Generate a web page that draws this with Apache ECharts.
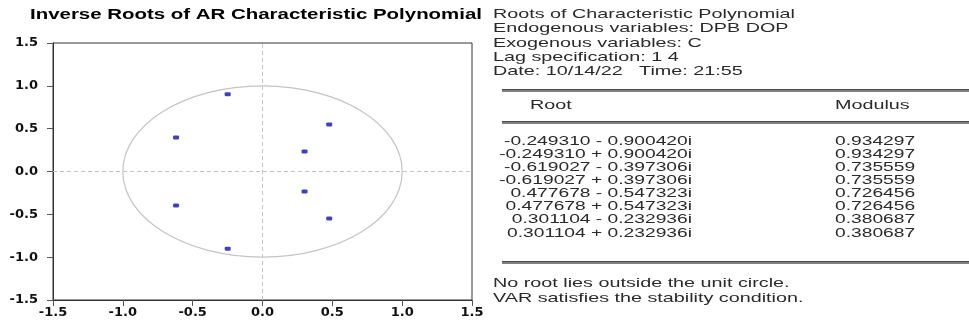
<!DOCTYPE html>
<html>
<head>
<meta charset="utf-8">
<script src="https://cdn.jsdelivr.net/npm/echarts@6/dist/echarts.min.js"></script>
<style>
html,body{margin:0;padding:0;background:#fff;}
#c{width:969px;height:326px;}
</style>
</head>
<body>
<div id="c"></div>
<script>
// ---- data ----
const chartTitle = 'Inverse Roots of AR Characteristic Polynomial';
const realParts = [-0.249310, -0.249310, -0.619027, -0.619027, 0.477678, 0.477678, 0.301104, 0.301104];
const imagParts = [-0.900420, 0.900420, -0.397306, 0.397306, -0.547323, 0.547323, -0.232936, 0.232936];
const moduli = ['0.934297', '0.934297', '0.735559', '0.735559', '0.726456', '0.726456', '0.380687', '0.380687'];
const axisMin = -1.5, axisMax = 1.5, axisStep = 0.5;
const headerLines = [
  'Roots of Characteristic Polynomial',
  'Endogenous variables: DPB DOP',
  'Exogenous variables: C',
  'Lag specification: 1 4',
  'Date: 10/14/22   Time: 21:55'
];
const colHeaders = ['Root', 'Modulus'];
const footerLines = [
  'No root lies outside the unit circle.',
  'VAR satisfies the stability condition.'
];

function fmtRoot(re, im) {
  return re.toFixed(6) + (im < 0 ? ' - ' : ' + ') + Math.abs(im).toFixed(6) + 'i';
}

// ---- text measuring for horizontal stretch ----
const cv = document.createElement('canvas').getContext('2d');
function measure(text, font) { cv.font = font; return cv.measureText(text).width; }
const bodyFont = '13px "Liberation Sans"';
const titleFont = 'bold 15px "Liberation Sans"';
const bodyScale = 302 / measure(headerLines[0], bodyFont);
const rowScale = 188 / measure(fmtRoot(realParts[0], imagParts[0]), bodyFont);
const titleScale = 452 / measure(chartTitle, titleFont);

function txt(text, x, y, opts) {
  opts = opts || {};
  return {
    type: 'text', x: x, y: y, scaleX: opts.scale || bodyScale, silent: true,
    style: {
      text: text, x: 0, y: 0,
      fill: opts.color || '#2a2a2a',
      font: opts.font || bodyFont,
      textAlign: opts.align || 'left',
      textVerticalAlign: 'middle'
    }
  };
}
function band(y) {
  return [
    { type: 'line', silent: true, shape: { x1: 502, y1: y + 1.5, x2: 969, y2: y + 1.5 }, style: { stroke: '#808080', lineWidth: 3 } },
    { type: 'line', silent: true, shape: { x1: 502, y1: y + 0.5, x2: 969, y2: y + 0.5 }, style: { stroke: '#4a4a4a', lineWidth: 1 } }
  ];
}

const graphics = [];
graphics.push(txt(chartTitle, 30, 15, { font: titleFont, scale: titleScale, color: '#000' }));
headerLines.forEach((t, i) => graphics.push(txt(t, 493, 14.5 + i * 14.3)));
graphics.push(...band(89));
graphics.push(txt(colHeaders[0], 530, 105));
graphics.push(txt(colHeaders[1], 835, 105));
graphics.push(...band(121));
realParts.forEach((re, i) => {
  const y = 141 + i * 13.15;
  graphics.push(txt(fmtRoot(re, imagParts[i]), 692, y, { align: 'right', scale: rowScale }));
  graphics.push(txt(moduli[i], 835, y, { scale: rowScale }));
});
graphics.push(...band(261));
footerLines.forEach((t, i) => graphics.push(txt(t, 493, 283 + i * 15)));

const points = realParts.map((re, i) => [re, imagParts[i]]);

const axisCommon = {
  type: 'value', min: axisMin, max: axisMax, interval: axisStep,
  splitLine: { show: false },
  axisLine: { show: true, onZero: false, lineStyle: { color: '#333', width: 1 } },
  axisTick: { show: true, inside: false, length: 6, lineStyle: { color: '#555' } },
  axisLabel: {
    color: '#111', fontFamily: 'DejaVu Sans', fontWeight: 'bold', fontSize: 13,
    formatter: v => v.toFixed(1)
  }
};

const chart = echarts.init(document.getElementById('c'), null, { renderer: 'canvas' });
chart.setOption({
  animation: false,
  backgroundColor: '#fff',
  grid: { left: 53, right: 497, top: 43, bottom: 26, show: true, borderColor: '#333', borderWidth: 1, backgroundColor: 'transparent' },
  xAxis: Object.assign({}, axisCommon, { axisLabel: Object.assign({}, axisCommon.axisLabel, { margin: 6 }) }),
  yAxis: Object.assign({}, axisCommon, { axisLabel: Object.assign({}, axisCommon.axisLabel, { margin: 15 }) }),
  graphic: graphics,
  series: [
    {
      type: 'custom',
      silent: true,
      data: [[0, 0]],
      encode: { x: 0, y: 1 },
      z: 1,
      renderItem: function (params, api) {
        const c = api.coord([0, 0]);
        const px = api.coord([1, 0]);
        const py = api.coord([0, 1]);
        return {
          type: 'ellipse',
          shape: { cx: c[0], cy: c[1], rx: px[0] - c[0], ry: c[1] - py[1] },
          style: { fill: 'none', stroke: '#c4c4c4', lineWidth: 1.2 }
        };
      }
    },
    {
      type: 'scatter',
      data: points,
      symbol: 'roundRect',
      symbolSize: [6, 4],
      itemStyle: { color: '#1010b4' },
      z: 3,
      markLine: {
        silent: true,
        symbol: 'none',
        label: { show: false },
        lineStyle: { color: '#c4c4c4', type: [4, 3], width: 1 },
        data: [{ xAxis: 0 }, { yAxis: 0 }]
      }
    }
  ]
});
</script>
</body>
</html>
